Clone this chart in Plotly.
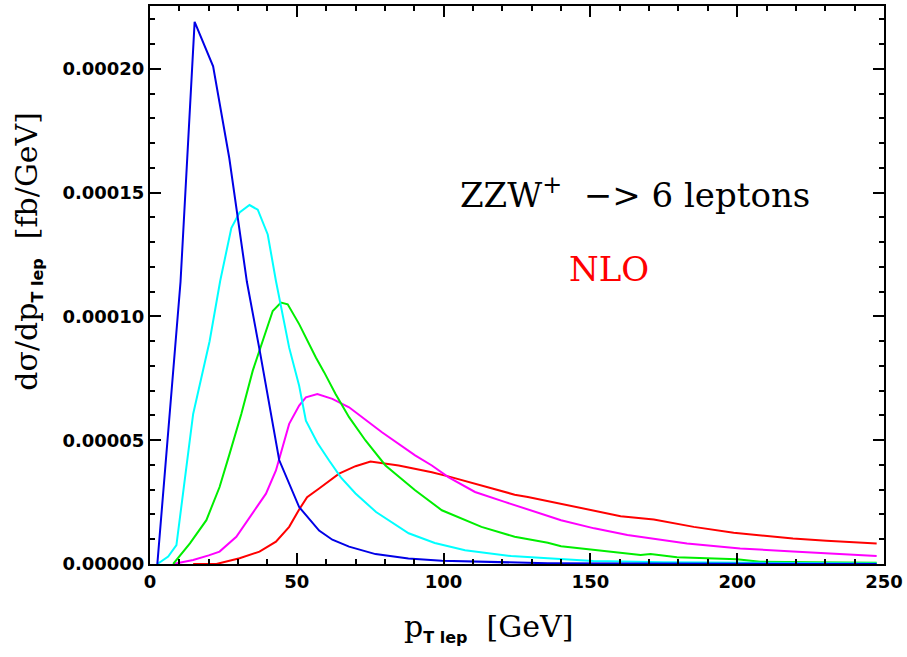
import plotly.graph_objects as go

# ---- data ----
blue_x = [2.5, 10.4, 15.2, 21.5, 27.0, 33.0, 37.4, 44.0, 50.8, 57.6, 62.1, 67.8, 76.8, 88.0, 99.4, 120.0, 135.5, 160.0, 200.0, 247.5]
blue_y = [0, 11.4e-5, 21.9e-5, 20.1e-5, 16.4e-5, 11.4e-5, 8.6e-5, 4.2e-5, 2.3e-5, 1.35e-5, 0.98e-5, 0.70e-5, 0.40e-5, 0.22e-5, 0.13e-5, 0.06e-5, 0.03e-5, 0.02e-5, 0.01e-5, 0.0]

cyan_x = [2.5, 6.2, 9.0, 14.7, 20.3, 23.9, 27.7, 30.5, 33.9, 36.7, 40.1, 42.9, 47.4, 50.8, 53.1, 57.0, 61.0, 65.0, 70.0, 77.0, 88.1, 97.0, 107.3, 123.0, 135.5, 151.0, 175.0, 200.0, 225.0, 247.5]
cyan_y = [0, 0.3e-5, 0.76e-5, 6.06e-5, 9.0e-5, 11.43e-5, 13.57e-5, 14.2e-5, 14.5e-5, 14.31e-5, 13.31e-5, 11.43e-5, 8.74e-5, 7.2e-5, 5.79e-5, 4.9e-5, 4.18e-5, 3.5e-5, 2.85e-5, 2.1e-5, 1.24e-5, 0.85e-5, 0.56e-5, 0.32e-5, 0.23e-5, 0.12e-5, 0.07e-5, 0.05e-5, 0.03e-5, 0.02e-5]

green_x = [7.9, 13.6, 19.2, 23.7, 27.1, 31.1, 35.0, 39.0, 41.8, 44.6, 46.9, 50.8, 56.5, 59.3, 63.2, 67.8, 73.4, 80.2, 90.3, 99.4, 112.9, 124.2, 135.5, 140.0, 151.3, 167.1, 170.5, 179.5, 199.9, 207.8, 225.0, 247.5]
green_y = [0, 0.83e-5, 1.77e-5, 3.11e-5, 4.45e-5, 6.06e-5, 7.81e-5, 9.28e-5, 10.22e-5, 10.56e-5, 10.49e-5, 9.69e-5, 8.34e-5, 7.75e-5, 6.87e-5, 5.93e-5, 4.99e-5, 3.98e-5, 2.98e-5, 2.17e-5, 1.5e-5, 1.10e-5, 0.86e-5, 0.72e-5, 0.56e-5, 0.36e-5, 0.40e-5, 0.27e-5, 0.19e-5, 0.09e-5, 0.07e-5, 0.05e-5]

magenta_x = [7.9, 14.7, 20.0, 23.7, 29.4, 35.0, 39.5, 42.9, 45.2, 47.4, 50.8, 53.1, 57.0, 62.1, 67.8, 79.0, 90.3, 96.0, 101.6, 110.7, 120.8, 128.7, 140.0, 151.3, 162.6, 182.9, 201.0, 219.0, 247.5]
magenta_y = [0, 0.16e-5, 0.35e-5, 0.5e-5, 1.1e-5, 2.04e-5, 2.84e-5, 3.78e-5, 4.72e-5, 5.66e-5, 6.40e-5, 6.73e-5, 6.87e-5, 6.67e-5, 6.33e-5, 5.32e-5, 4.39e-5, 3.98e-5, 3.51e-5, 2.91e-5, 2.51e-5, 2.2e-5, 1.77e-5, 1.44e-5, 1.17e-5, 0.83e-5, 0.63e-5, 0.50e-5, 0.32e-5]

red_x = [14.7, 22.6, 30.5, 37.3, 42.9, 47.4, 50.8, 53.5, 57.6, 64.4, 70.0, 75.1, 84.7, 96.0, 101.6, 114.1, 124.2, 128.7, 142.3, 149.0, 160.3, 171.6, 185.2, 198.8, 219.0, 230.4, 247.5]
red_y = [0, 0, 0.23e-5, 0.5e-5, 0.9e-5, 1.5e-5, 2.2e-5, 2.7e-5, 3.05e-5, 3.65e-5, 3.95e-5, 4.14e-5, 3.98e-5, 3.71e-5, 3.54e-5, 3.14e-5, 2.8e-5, 2.71e-5, 2.37e-5, 2.2e-5, 1.93e-5, 1.8e-5, 1.5e-5, 1.26e-5, 1.03e-5, 0.94e-5, 0.83e-5]

x_ticks = [0, 50, 100, 150, 200, 250]
y_ticks = [0.0, 0.00005, 0.00010, 0.00015, 0.00020]
y_tick_labels = ["0.00000", "0.00005", "0.00010", "0.00015", "0.00020"]

series = [
    (red_x, red_y, "#ff0000"),
    (magenta_x, magenta_y, "#ff00ff"),
    (green_x, green_y, "#00ee00"),
    (cyan_x, cyan_y, "#00ffff"),
    (blue_x, blue_y, "#0000e6"),
]

fig = go.Figure()
for xs, ys, col in series:
    fig.add_trace(go.Scatter(x=xs, y=ys, mode="lines",
                             line=dict(color=col, width=2), showlegend=False,
                             hoverinfo="skip"))

tickfont = dict(family="DejaVu Sans", size=18, color="black")
axis_common = dict(showgrid=False, zeroline=False, showline=True, linecolor="black",
                   linewidth=2, mirror="ticks", ticks="inside", ticklen=11,
                   tickwidth=2, tickcolor="black")

fig.update_xaxes(range=[0, 250], tickvals=x_ticks, ticktext=[f"<b>{v}</b>" for v in x_ticks],
                 tickfont=tickfont,
                 minor=dict(ticks="inside", ticklen=5, tickwidth=2, tickcolor="black", dtick=10, tick0=0, showgrid=False),
                 **axis_common)
fig.update_yaxes(range=[0, 0.0002254], tickvals=y_ticks, ticktext=[f"<b>{t}</b>" for t in y_tick_labels],
                 tickfont=tickfont,
                 minor=dict(ticks="inside", ticklen=5, tickwidth=2, tickcolor="black", dtick=0.00001, tick0=0, showgrid=False),
                 **axis_common)

serif = "DejaVu Serif"
sub_style = "font-family:DejaVu Sans;font-weight:bold;font-size:16px"
fig.add_annotation(xref="paper", yref="paper", x=(490 - 150) / 738, y=(564 - 628) / 560,
                   text=f'p<sub><span style="{sub_style}">T lep</span></sub>  [GeV]',
                   showarrow=False, xanchor="center", yanchor="middle",
                   font=dict(family=serif, size=30, color="black"))
fig.add_annotation(xref="paper", yref="paper", x=(27 - 150) / 738, y=(564 - 250) / 560,
                   text=f'dσ/dp<sub><span style="{sub_style}">T lep</span></sub>  [fb/GeV]',
                   textangle=-90, showarrow=False, xanchor="center", yanchor="middle",
                   font=dict(family=serif, size=30, color="black"))
fig.add_annotation(x=165.3, y=0.0001497, text="ZZW<sup>+</sup>  −&gt; 6 leptons",
                   showarrow=False, xanchor="center", yanchor="middle",
                   font=dict(family=serif, size=34, color="black"))
fig.add_annotation(x=156.5, y=0.0001191, text="NLO",
                   showarrow=False, xanchor="center", yanchor="middle",
                   font=dict(family=serif, size=34, color="#ff0000"))

fig.update_layout(width=907, height=657, margin=dict(l=150, r=19, t=4, b=93),
                  plot_bgcolor="white", paper_bgcolor="white")

fig.write_html("out.html")
